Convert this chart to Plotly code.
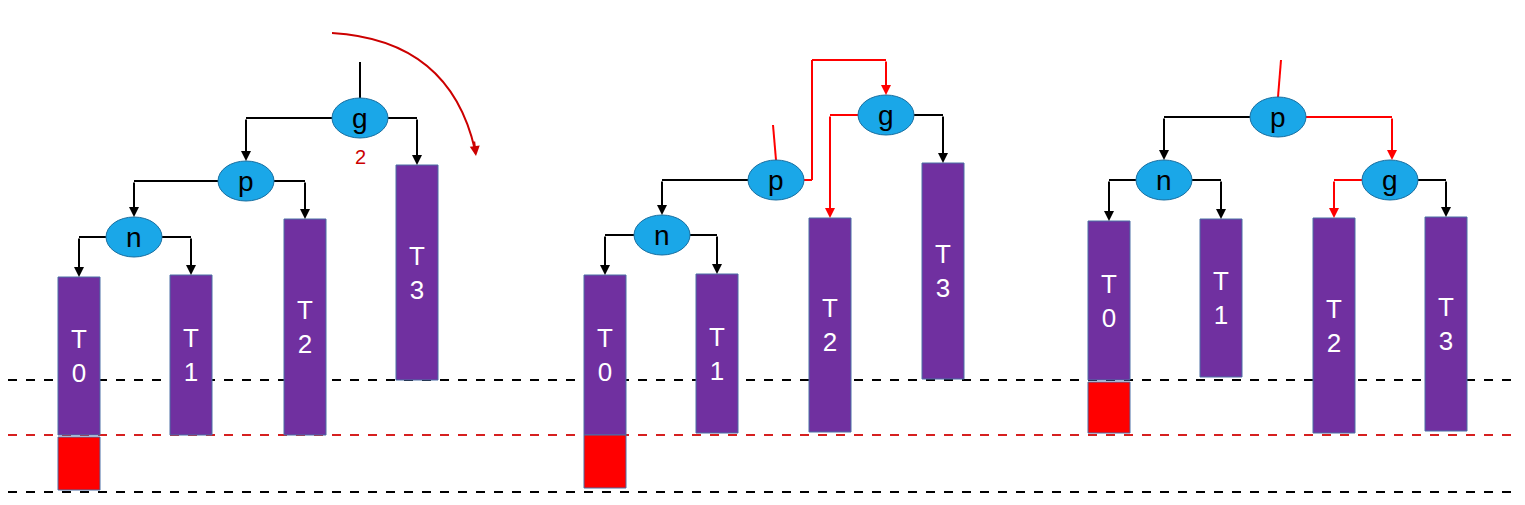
import plotly.graph_objects as go

# Subtree bars: label, x-left, top, bottom (diagram units)
bar_labels = ["T0","T1","T2","T3","T0","T1","T2","T3","T0","T1","T2","T3"]
bar_x0 = [58,170,284,396, 584,696,809,922, 1088,1200,1313,1425]
bar_top = [277,275,219,165, 275,274,218,163, 221,219,218,217]
bar_bot = [435,435,435,380, 435,433,432,379, 380,377,433,431]
# Red growth blocks: x-left, top, bottom
red_x0 = [58,584,1088]
red_top = [437,435,382]
red_bot = [490,488,433]
# Nodes: label, cx, cy
node_labels = ["g","p","n","g","p","n","p","n","g"]
node_cx = [360,246,134, 886,776,662, 1278,1164,1390]
node_cy = [118,181,237, 115,180,235, 117,180,180]
edges = [
    ([(332,118),(246,118),(246,161)],"black"),
    ([(388,118),(417,118),(417,165)],"black"),
    ([(218,181),(134,181),(134,217)],"black"),
    ([(274,181),(305,181),(305,219)],"black"),
    ([(106,237),(79,237),(79,277)],"black"),
    ([(162,237),(191,237),(191,275)],"black"),
    ([(748,180),(662,180),(662,215)],"black"),
    ([(634,235),(605,235),(605,275)],"black"),
    ([(690,235),(717,235),(717,274)],"black"),
    ([(914,115),(943,115),(943,163)],"black"),
    ([(804,180),(812,180),(812,60),(886,60),(886,95)],"red"),
    ([(858,115),(830,115),(830,218)],"red"),
    ([(1250,117),(1164,117),(1164,160)],"black"),
    ([(1306,117),(1392,117),(1392,160)],"red"),
    ([(1136,180),(1109,180),(1109,221)],"black"),
    ([(1192,180),(1221,180),(1221,219)],"black"),
    ([(1362,180),(1334,180),(1334,218)],"red"),
    ([(1418,180),(1446,180),(1446,217)],"black"),
]
ticks = [((360,62),(360,98),"black"),((773,125),(776,160),"red"),((1281,60),(1278,97),"red")]
hlines = [(380,"black"),(435,"#d62020"),(492,"black")]

fig = go.Figure()
shapes, ann = [], []
for y, c in hlines:
    shapes.append(dict(type="line", x0=8, x1=1512, y0=y, y1=y, line=dict(color=c, width=2, dash="dash")))
for lab, x0, t, b in zip(bar_labels, bar_x0, bar_top, bar_bot):
    shapes.append(dict(type="rect", x0=x0, x1=x0+42, y0=t, y1=b, fillcolor="#7030a0", line=dict(color="#4a6fa5", width=1)))
    ann.append(dict(x=x0+21, y=(t+b)/2, text=lab[0]+"<br>"+lab[1], showarrow=False, font=dict(size=26, color="white", family="Liberation Sans")))
for x0, t, b in zip(red_x0, red_top, red_bot):
    shapes.append(dict(type="rect", x0=x0, x1=x0+42, y0=t, y1=b, fillcolor="#ff0000", line=dict(color="#4a6fa5", width=1)))
for pts, c in edges:
    for (xa, ya), (xb, yb) in zip(pts[:-2], pts[1:-1]):
        shapes.append(dict(type="line", x0=xa, y0=ya, x1=xb, y1=yb, line=dict(color=c, width=2)))
    (xa, ya), (xb, yb) = pts[-2], pts[-1]
    ann.append(dict(x=xb, y=yb, ax=xa, ay=ya, axref="x", ayref="y", xref="x", yref="y", text="",
                    showarrow=True, arrowhead=2, arrowsize=1, arrowwidth=2, arrowcolor=c))
for (xa, ya), (xb, yb), c in ticks:
    shapes.append(dict(type="line", x0=xa, y0=ya, x1=xb, y1=yb, line=dict(color=c, width=2)))
for lab, cx, cy in zip(node_labels, node_cx, node_cy):
    shapes.append(dict(type="circle", x0=cx-28, x1=cx+28, y0=cy-20, y1=cy+20, fillcolor="#1aa7e8", line=dict(color="#1a6fa0", width=1)))
    ann.append(dict(x=cx, y=cy, text=lab, showarrow=False, font=dict(size=28, color="black", family="Liberation Sans")))
shapes.append(dict(type="path", path="M 332,33 Q 450,40 475,150", line=dict(color="#cc0000", width=2)))
ann.append(dict(x=476, y=156, ax=474, ay=140, axref="x", ayref="y", text="", showarrow=True, arrowhead=2, arrowwidth=2, arrowcolor="#cc0000"))
ann.append(dict(x=360, y=157, text="2", showarrow=False, font=dict(size=20, color="#cc0000", family="Liberation Sans")))

fig.add_trace(go.Scatter(x=[100], y=[100], mode="markers", marker=dict(opacity=0), hoverinfo="skip", showlegend=False))
fig.update_layout(width=1525, height=505, margin=dict(l=0, r=0, t=0, b=0), plot_bgcolor="white", paper_bgcolor="white",
                  shapes=shapes, annotations=ann,
                  xaxis=dict(range=[8,1533], visible=False, fixedrange=True),
                  yaxis=dict(range=[513,8], visible=False, fixedrange=True))
fig.write_html("out.html")
